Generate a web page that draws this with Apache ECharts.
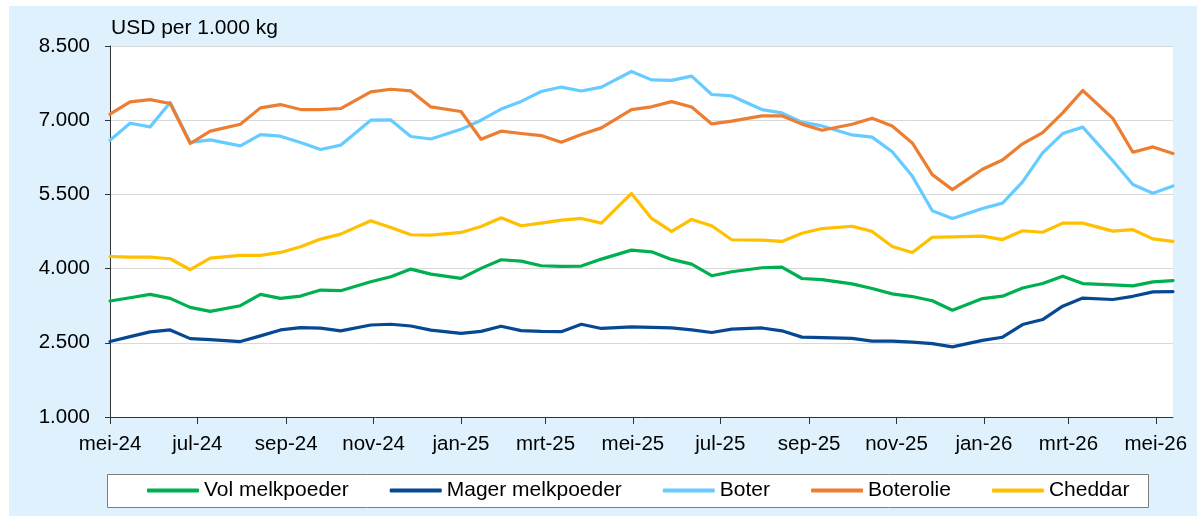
<!DOCTYPE html>
<html>
<head>
<meta charset="utf-8">
<script src="https://cdn.jsdelivr.net/npm/echarts@6/dist/echarts.min.js"></script>
<style>
  html, body { margin: 0; padding: 0; background: #fff; }
  #chart { position: absolute; left: 9px; top: 6px; width: 1188px; height: 510px; }
</style>
</head>
<body>
<div id="chart"></div>
<script>
// auction dates (GDT events)
const dates = [
  '2024-05-07', '2024-05-21', '2024-06-04', '2024-06-18', '2024-07-02', '2024-07-16',
  '2024-08-06', '2024-08-20', '2024-09-03', '2024-09-17', '2024-10-01', '2024-10-15',
  '2024-11-05', '2024-11-19', '2024-12-03', '2024-12-17', '2025-01-07', '2025-01-21',
  '2025-02-04', '2025-02-18', '2025-03-04', '2025-03-18', '2025-04-01', '2025-04-15',
  '2025-05-06', '2025-05-20', '2025-06-03', '2025-06-17', '2025-07-01', '2025-07-15',
  '2025-08-05', '2025-08-19', '2025-09-02', '2025-09-16', '2025-10-07', '2025-10-21',
  '2025-11-04', '2025-11-18', '2025-12-02', '2025-12-16', '2026-01-06', '2026-01-20',
  '2026-02-03', '2026-02-17', '2026-03-03', '2026-03-17', '2026-04-07', '2026-04-21',
  '2026-05-05', '2026-05-19'
];

const volMelkpoeder = [
  3345, 3411, 3479, 3398, 3216, 3135, 3250, 3479, 3398, 3445, 3566, 3553,
  3734, 3836, 3990, 3889, 3802, 4004, 4179, 4152, 4058, 4044, 4051, 4192,
  4374, 4340, 4186, 4091, 3856, 3937, 4017, 4031, 3800, 3778, 3691, 3597,
  3489, 3435, 3350, 3158, 3394, 3442, 3607, 3698, 3846, 3698, 3671, 3650,
  3731, 3758
];

const magerMelkpoeder = [
  2525, 2625, 2720, 2760, 2585, 2565, 2525, 2640, 2760, 2805, 2795, 2740,
  2860, 2875, 2840, 2755, 2690, 2730, 2835, 2745, 2730, 2725, 2875, 2790,
  2820, 2812, 2800, 2762, 2708, 2775, 2800, 2742, 2615, 2605, 2588, 2535,
  2535, 2515, 2482, 2418, 2548, 2613, 2869, 2970, 3240, 3405, 3375, 3440,
  3530, 3536
];

const boter = [
  6596, 6939, 6865, 7357, 6549, 6603, 6482, 6710, 6677, 6549, 6407, 6495,
  7000, 7005, 6670, 6620, 6815, 7000, 7225, 7380, 7580, 7670, 7590, 7670,
  7985, 7815, 7805, 7890, 7520, 7490, 7215, 7148, 6960, 6884, 6702, 6658,
  6361, 5870, 5169, 5014, 5216, 5323, 5754, 6340, 6730, 6860, 6180, 5700,
  5523, 5670
];

const boterolie = [
  7121, 7370, 7417, 7337, 6529, 6778, 6919, 7249, 7316, 7215, 7215, 7236,
  7572, 7626, 7592, 7269, 7175, 6616, 6778, 6731, 6690, 6556, 6710, 6845,
  7214, 7271, 7375, 7268, 6925, 6980, 7088, 7088, 6921, 6796, 6918, 7038,
  6884, 6541, 5900, 5597, 6008, 6196, 6523, 6750, 7147, 7601, 7036, 6352,
  6460, 6325
];

const cheddar = [
  4245, 4233, 4233, 4199, 3977, 4213, 4266, 4266, 4327, 4441, 4596, 4697,
  4967, 4832, 4684, 4677, 4731, 4852, 5027, 4866, 4920, 4980, 5014, 4920,
  5519, 5014, 4751, 4994, 4866, 4583, 4576, 4549, 4715, 4810, 4856, 4752,
  4445, 4324, 4634, 4640, 4657, 4587, 4765, 4735, 4920, 4920, 4758, 4786,
  4600, 4550
];

// x-axis ticks sit every two months, counted from the first auction date
const xTickDates = [
  '2024-05-07', '2024-07-07', '2024-09-07', '2024-11-07', '2025-01-07', '2025-03-07',
  '2025-05-07', '2025-07-07', '2025-09-07', '2025-11-07', '2026-01-07', '2026-03-07',
  '2026-05-07'
];
const xTickLabels = [
  'mei-24', 'jul-24', 'sep-24', 'nov-24', 'jan-25', 'mrt-25',
  'mei-25', 'jul-25', 'sep-25', 'nov-25', 'jan-26', 'mrt-26', 'mei-26'
];

function toTime(s) {
  const p = s.split('-');
  return Date.UTC(+p[0], +p[1] - 1, +p[2]);
}

const tickTimes = xTickDates.map(toTime);
const font = "'Liberation Sans', Arial, sans-serif";

function pairs(values) {
  return dates.map((d, i) => [toTime(d), values[i]]);
}

function makeSeries(name, values, color) {
  return {
    name: name,
    type: 'line',
    data: pairs(values),
    symbol: 'none',
    lineStyle: { color: color, width: 3.2, cap: 'round', join: 'round' },
    itemStyle: { color: color }
  };
}

const option = {
  animation: false,
  backgroundColor: '#dff1fc',
  textStyle: { fontFamily: font },
  title: {
    text: 'USD per 1.000 kg',
    left: 102,
    top: 12,
    padding: 0,
    textStyle: { fontSize: 21, fontWeight: 'normal', color: '#000', fontFamily: font }
  },
  graphic: [
    {
      type: 'rect',
      shape: { x: 98.5, y: 468.5, width: 1041, height: 33 },
      style: { fill: '#fff', stroke: '#7f7f7f', lineWidth: 1 },
      silent: true,
      z: 0
    }
  ],
  legend: {
    left: 138,
    top: 474,
    padding: 0,
    itemGap: 41,
    itemWidth: 52,
    itemHeight: 4,
    icon: 'roundRect',
    textStyle: { fontSize: 21, color: '#000', fontFamily: font },
    z: 5
  },
  grid: {
    left: 101,
    top: 40,
    right: 24,
    bottom: 99,
    show: true,
    backgroundColor: '#fff',
    borderWidth: 0
  },
  xAxis: {
    // dates as epoch ms on a linear axis, ticks placed on the two-monthly dates
    type: 'value',
    min: toTime(dates[0]),
    max: toTime(dates[dates.length - 1]),
    axisLine: { show: true, lineStyle: { color: '#333', width: 1 } },
    axisTick: { show: true, length: 7, lineStyle: { color: '#333' }, customValues: tickTimes },
    axisLabel: {
      customValues: tickTimes,
      margin: 17,
      fontSize: 20.5,
      color: '#000',
      fontFamily: font,
      hideOverlap: false,
      formatter: function (value) {
        for (let i = 0; i < tickTimes.length; i++) {
          if (Math.abs(tickTimes[i] - value) < 43200000) return xTickLabels[i];
        }
        return '';
      }
    },
    splitLine: { show: false }
  },
  yAxis: {
    type: 'value',
    min: 1000,
    max: 8500,
    interval: 1500,
    axisLine: { show: true, lineStyle: { color: '#333', width: 1 } },
    axisTick: { show: true, length: 5, lineStyle: { color: '#333' } },
    axisLabel: {
      margin: 20,
      fontSize: 20.5,
      color: '#000',
      fontFamily: font,
      formatter: function (v) {
        return String(v).replace(/\B(?=(\d{3})+(?!\d))/g, '.');
      }
    },
    splitLine: { show: true, lineStyle: { color: '#d9d9d9', width: 1 } }
  },
  series: [
    makeSeries('Vol melkpoeder', volMelkpoeder, '#00b050'),
    makeSeries('Mager melkpoeder', magerMelkpoeder, '#074892'),
    makeSeries('Boter', boter, '#66ccff'),
    makeSeries('Boterolie', boterolie, '#ed7d31'),
    makeSeries('Cheddar', cheddar, '#ffc000')
  ]
};

const chart = echarts.init(document.getElementById('chart'));
chart.setOption(option);
</script>
</body>
</html>
